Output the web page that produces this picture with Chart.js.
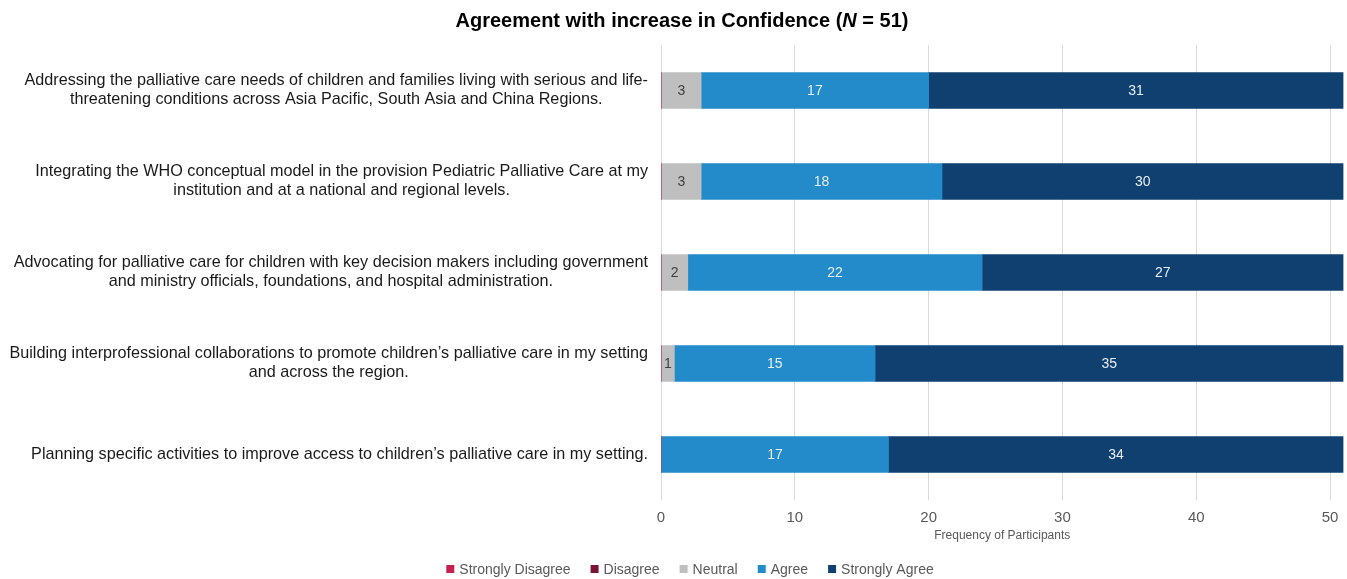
<!DOCTYPE html>
<html><head><meta charset="utf-8">
<script src="https://cdn.jsdelivr.net/npm/chart.js@4"></script>
<style>html,body{margin:0;padding:0;background:#fff;overflow:hidden;}</style>
</head><body>
<canvas id="c" width="1347" height="579"></canvas>
<script>
const categories = [
  ["Addressing the palliative care needs of children and families living with serious and life-", "threatening conditions across Asia Pacific, South Asia and China Regions."],
  ["Integrating the WHO conceptual model in the provision Pediatric Palliative Care at my", "institution and at a national and regional levels."],
  ["Advocating for palliative care for children with key decision makers including government", "and ministry officials, foundations, and hospital administration."],
  ["Building interprofessional collaborations to promote children\u2019s palliative care in my setting", "and across the region."],
  ["Planning specific activities to improve access to children\u2019s palliative care in my setting."]
];
const seriesNames = ["Strongly Disagree", "Disagree", "Neutral", "Agree", "Strongly Agree"];
const stronglyDisagree = [0, 0, 0, 0, 0];
const disagree = [0, 0, 0, 0, 0];
const neutral = [3, 3, 2, 1, 0];
const agree = [17, 18, 22, 15, 17];
const stronglyAgree = [31, 30, 27, 35, 34];
const xTickStep = 10;
const xMax = 51;
const titleText = ["Agreement with increase in Confidence (", "N", " = 51)"];
const xAxisTitle = "Frequency of Participants";

const seriesColors = ["#C8204E", "#7B1434", "#BFBFBF", "#238BCA", "#10406F"];
const labelColors = ["#ffffff", "#ffffff", "#404040", "#E6EEF6", "#E6EEF6"];
const FONT = "'Liberation Sans', Arial, Helvetica, sans-serif";
Chart.defaults.font.family = FONT;

const values = [stronglyDisagree, disagree, neutral, agree, stronglyAgree];

const PLOT_LEFT = 661;

const customDraw = {
  id: 'customDraw',
  afterDatasetsDraw(chart) {
    const ctx = chart.ctx;
    ctx.save();
    ctx.font = "14px " + FONT;
    ctx.textAlign = 'center';
    ctx.textBaseline = 'middle';
    chart.data.datasets.forEach((ds, di) => {
      const meta = chart.getDatasetMeta(di);
      meta.data.forEach((bar, i) => {
        const v = ds.data[i];
        if (!v) return;
        ctx.fillStyle = labelColors[di];
        ctx.fillText(String(v), (bar.x + bar.base) / 2, bar.y + 1);
      });
    });
    ctx.restore();
  },
  afterDraw(chart) {
    const ctx = chart.ctx;
    const ys = chart.scales.y;
    ctx.save();
    // category labels
    ctx.font = "16.2px " + FONT;
    ctx.fillStyle = "#1a1a1a";
    ctx.textAlign = 'center';
    ctx.textBaseline = 'middle';
    const blockRight = chart.chartArea.left - 13;
    const lh = 19;
    categories.forEach((lines, i) => {
      const cy = ys.getPixelForValue(i);
      const maxW = Math.max(...lines.map(l => ctx.measureText(l).width));
      const cx = blockRight - maxW / 2;
      lines.forEach((l, k) => {
        ctx.fillText(l, cx, cy + (k - (lines.length - 1) / 2) * lh);
      });
    });
    // title
    ctx.fillStyle = "#000";
    ctx.textAlign = 'left';
    const fonts = ["bold 20px " + FONT, "italic bold 20px " + FONT, "bold 20px " + FONT];
    let total = 0;
    const widths = titleText.map((t, k) => { ctx.font = fonts[k]; const w = ctx.measureText(t).width; total += w; return w; });
    let x = 682 - total / 2;
    titleText.forEach((t, k) => { ctx.font = fonts[k]; ctx.fillText(t, x, 21); x += widths[k]; });
    // legend
    ctx.font = "14px " + FONT;
    const box = 8, gapBT = 5, gapItem = 20;
    const itemW = seriesNames.map(n => box + gapBT + ctx.measureText(n).width);
    const legW = itemW.reduce((a, b) => a + b, 0) + gapItem * (seriesNames.length - 1);
    let lx = 690 - legW / 2;
    const ly = 569;
    seriesNames.forEach((n, k) => {
      ctx.fillStyle = seriesColors[k];
      ctx.fillRect(lx, ly - box / 2, box, box);
      ctx.fillStyle = "#595959";
      ctx.fillText(n, lx + box + gapBT, ly + 1);
      lx += itemW[k] + gapItem;
    });
    ctx.restore();
  }
};

new Chart(document.getElementById('c'), {
  type: 'bar',
  data: {
    labels: categories,
    datasets: seriesNames.map((n, k) => ({
      label: n,
      data: values[k],
      backgroundColor: seriesColors[k],
      borderWidth: 0,
      barThickness: 36
    }))
  },
  options: {
    indexAxis: 'y',
    responsive: false,
    animation: false,
    layout: { padding: { top: 45, right: 3, bottom: 31.6, left: 0 } },
    plugins: {
      legend: { display: false },
      title: { display: false },
      tooltip: { enabled: false }
    },
    scales: {
      x: {
        stacked: true,
        min: 0,
        max: xMax,
        grid: { color: "#D9D9D9", drawTicks: false },
        border: { display: false },
        ticks: { stepSize: xTickStep, includeBounds: false, color: "#595959", font: { size: 15 }, padding: 8.5 },
        title: { display: true, text: xAxisTitle, color: "#595959", font: { size: 12 }, padding: { top: -7, bottom: 5 } }
      },
      y: {
        stacked: true,
        grid: { display: false },
        border: { display: false },
        ticks: { display: false },
        afterFit(scale) { scale.width = PLOT_LEFT; }
      }
    }
  },
  plugins: [customDraw]
});
</script>
</body></html>
